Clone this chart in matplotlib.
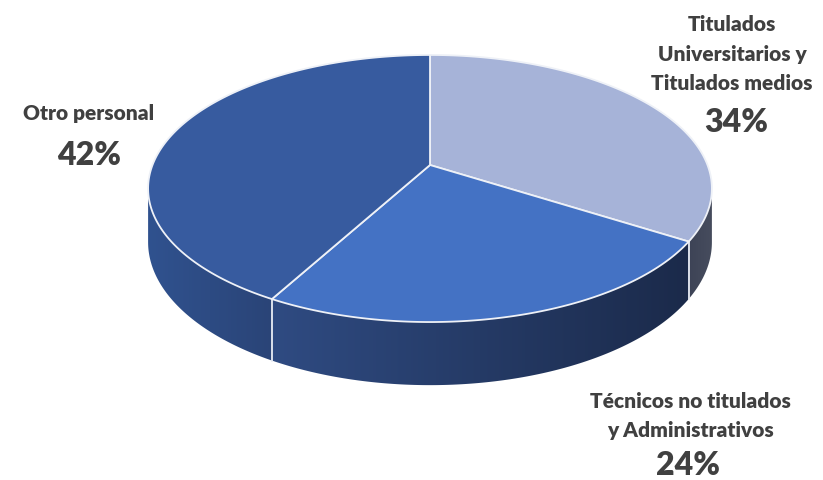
import numpy as np
import matplotlib.pyplot as plt
from matplotlib.patches import Polygon
from matplotlib.colors import to_rgb

# data (clockwise from 12 o'clock)
labels = ['Titulados\nUniversitarios y\nTitulados medios',
          'Técnicos no titulados\ny Administrativos',
          'Otro personal']
shares = [34, 24, 42]
pct_labels = ['34%', '24%', '42%']

top_colors = ['#A6B3D8', '#4472C4', '#375B9F']
# wall gradient colours: (left, right) in the picture
wall_colors = [('#3D4356', '#474D5E'), ('#2F4B82', '#1B2A4A'), ('#30528F', '#2A4477')]
text_color = '#404040'

# projection of the disc (pixel space)
CX, CY = 430, 165
SX, SY = 277.5, 129.4
P = 0.176
DEPTH = 52


def proj(theta, drop=0.0):
    t = np.radians(theta)
    u, v = np.sin(t), np.cos(t)
    w = 1 + P * v
    return CX + SX * u / w, CY - SY * v / w + drop / w


fig = plt.figure(figsize=(8.23, 4.8), dpi=100)
ax = fig.add_axes([0, 0, 1, 1])
ax.set_xlim(0, 823)
ax.set_ylim(480, 0)
ax.axis('off')

bounds = np.concatenate([[0], np.cumsum(shares) / sum(shares) * 360])
th_l = np.degrees(np.arccos(-P))
th_r = 360 - th_l

# side walls, horizontal gradient clipped to each wall polygon
for i in range(len(shares)):
    a0, a1 = max(bounds[i], th_l), min(bounds[i + 1], th_r)
    if a1 <= a0:
        continue
    ts = np.linspace(a0, a1, 120)
    top = [proj(t) for t in ts]
    bot = [proj(t, DEPTH) for t in ts[::-1]]
    poly = Polygon(top + bot, closed=True, facecolor='none', edgecolor='none')
    ax.add_patch(poly)
    xs = [p[0] for p in top + bot]
    ys = [p[1] for p in top + bot]
    x0, x1 = min(xs) - 1, max(xs) + 1
    c0, c1 = np.array(to_rgb(wall_colors[i][0])), np.array(to_rgb(wall_colors[i][1]))
    f = np.linspace(0, 1, 256)[None, :, None]
    grad = c0 + (c1 - c0) * f
    im = ax.imshow(grad, extent=(x0, x1, max(ys) + 1, min(ys) - 1),
                   aspect='auto', interpolation='bilinear', zorder=1)
    im.set_clip_path(poly)

# wall separators
for b in bounds[1:-1]:
    if th_l < b < th_r:
        x0, y0 = proj(b)
        x1, y1 = proj(b, DEPTH)
        ax.plot([x0, x1], [y0, y1], color='#E8ECF4', lw=1.3, zorder=2)

# top wedges
for i in range(len(shares)):
    ts = np.linspace(bounds[i], bounds[i + 1], 200)
    pts = [(CX, CY)] + [proj(t) for t in ts]
    ax.add_patch(Polygon(pts, closed=True, facecolor=top_colors[i],
                         edgecolor='#EEF1F7', lw=1.3, joinstyle='round', zorder=3))

ax.set_xlim(0, 823)
ax.set_ylim(480, 0)

# labels
fam = ['Lato', 'DejaVu Sans']
name_fs, pct_fs = 15, 23


def label(lines, x, baselines, pct, pct_x, pct_y):
    for ln, yb in zip(lines, baselines):
        ax.text(x, yb, ln, ha='center', va='baseline', fontsize=name_fs,
                fontweight='heavy', color=text_color, family=fam)
    ax.text(pct_x, pct_y, pct, ha='center', va='baseline', fontsize=pct_fs,
            fontweight='heavy', color=text_color, family=fam)


label(labels[0].split('\n'), 732, [31, 61, 90], pct_labels[0], 736, 132)
label(labels[1].split('\n'), 690, [408, 437], pct_labels[1], 688, 475)
label(labels[2].split('\n'), 89, [120], pct_labels[2], 89, 165)

fig.savefig('out.png', dpi=100)
